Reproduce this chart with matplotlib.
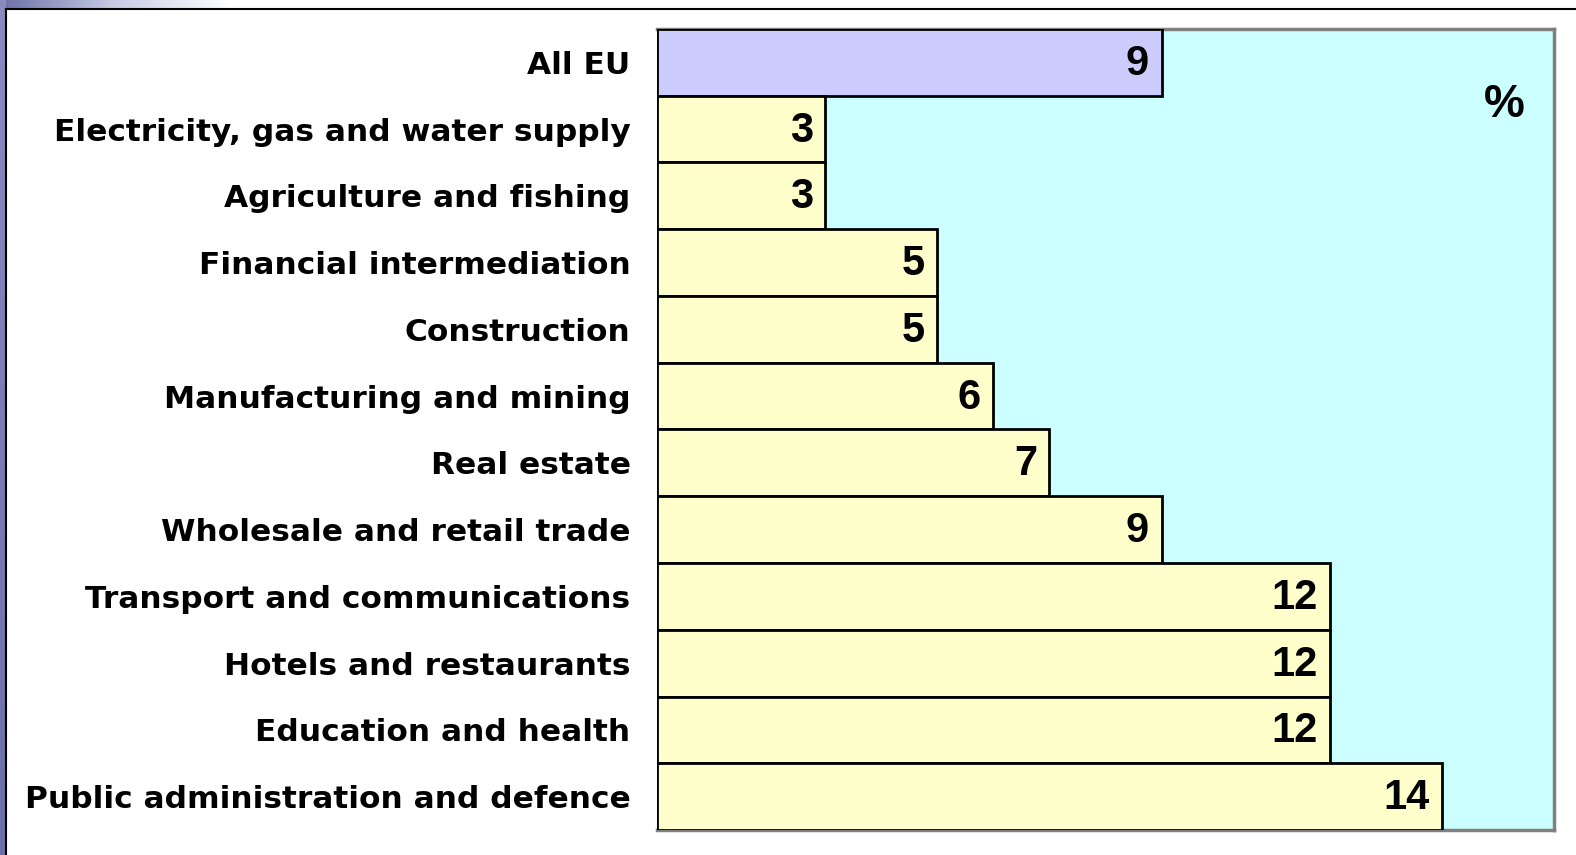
import matplotlib
matplotlib.use("Agg")
import matplotlib.pyplot as plt
import numpy as np
from matplotlib.lines import Line2D

categories = ["All EU", "Electricity, gas and water supply", "Agriculture and fishing",
              "Financial intermediation", "Construction", "Manufacturing and mining",
              "Real estate", "Wholesale and retail trade", "Transport and communications",
              "Hotels and restaurants", "Education and health",
              "Public administration and defence"]
values = [9, 3, 3, 5, 5, 6, 7, 9, 12, 12, 12, 14]
bar_colors = ["#CCCCFF"] + ["#FFFFCC"] * 11

W, H = 1576, 855
fig = plt.figure(figsize=(W / 100, H / 100), dpi=100)
fig.patch.set_facecolor("white")

# decorative slide edge
grad = np.linspace(0, 1, 256).reshape(1, -1)
ax_top = fig.add_axes([0, 1 - 9 / H, 230 / W, 9 / H])
ax_top.imshow(grad, aspect="auto", cmap=matplotlib.colors.LinearSegmentedColormap.from_list(
    "g", ["#6A6FA8", "#C8CCE4", "#FFFFFF"]), extent=[0, 1, 0, 1])
ax_top.axis("off")
ax_left = fig.add_axes([0, 0, 6 / W, 1])
ax_left.imshow(grad.T, aspect="auto", cmap=matplotlib.colors.LinearSegmentedColormap.from_list(
    "g2", ["#8A8CC0", "#6A6FA8"]), extent=[0, 1, 0, 1])
ax_left.axis("off")
fig.add_artist(Line2D([6 / W, 6 / W], [0, 1 - 9 / H], color="black", lw=1.5,
                      transform=fig.transFigure))
fig.add_artist(Line2D([6 / W, 1], [1 - 9 / H, 1 - 9 / H], color="black", lw=1.5,
                      transform=fig.transFigure))

left, right, top, bottom = 657, 1554, 29, 830
ax = fig.add_axes([left / W, 1 - bottom / H, (right - left) / W, (bottom - top) / H])
ax.set_facecolor("#CCFFFF")
y = np.arange(len(categories))
ax.barh(y, values, height=1.0, color=bar_colors, edgecolor="black", linewidth=2, zorder=3)
ax.set_xlim(0, 16)
ax.set_ylim(len(categories) - 0.5, -0.5)
ax.set_yticks(y)
ax.set_yticklabels(categories, fontsize=22.5, fontweight="bold", family="DejaVu Sans")
ax.tick_params(axis="y", length=0, pad=19)
ax.set_xticks([])
ax.spines["left"].set_visible(False)
for s in ["top", "right", "bottom"]:
    ax.spines[s].set_color("#808080")
    ax.spines[s].set_linewidth(2.5)

for yi, v in zip(y, values):
    ax.annotate(str(v), xy=(v, yi), xytext=(-9, -1), textcoords="offset points",
                ha="right", va="center", fontsize=30, fontweight="bold",
                family="Liberation Sans", zorder=4)

ax.text(0.945, 0.905, "%", transform=ax.transAxes, ha="center", va="center",
        fontsize=33, fontweight="bold", family="Liberation Sans")

fig.savefig("out.png", dpi=100)
